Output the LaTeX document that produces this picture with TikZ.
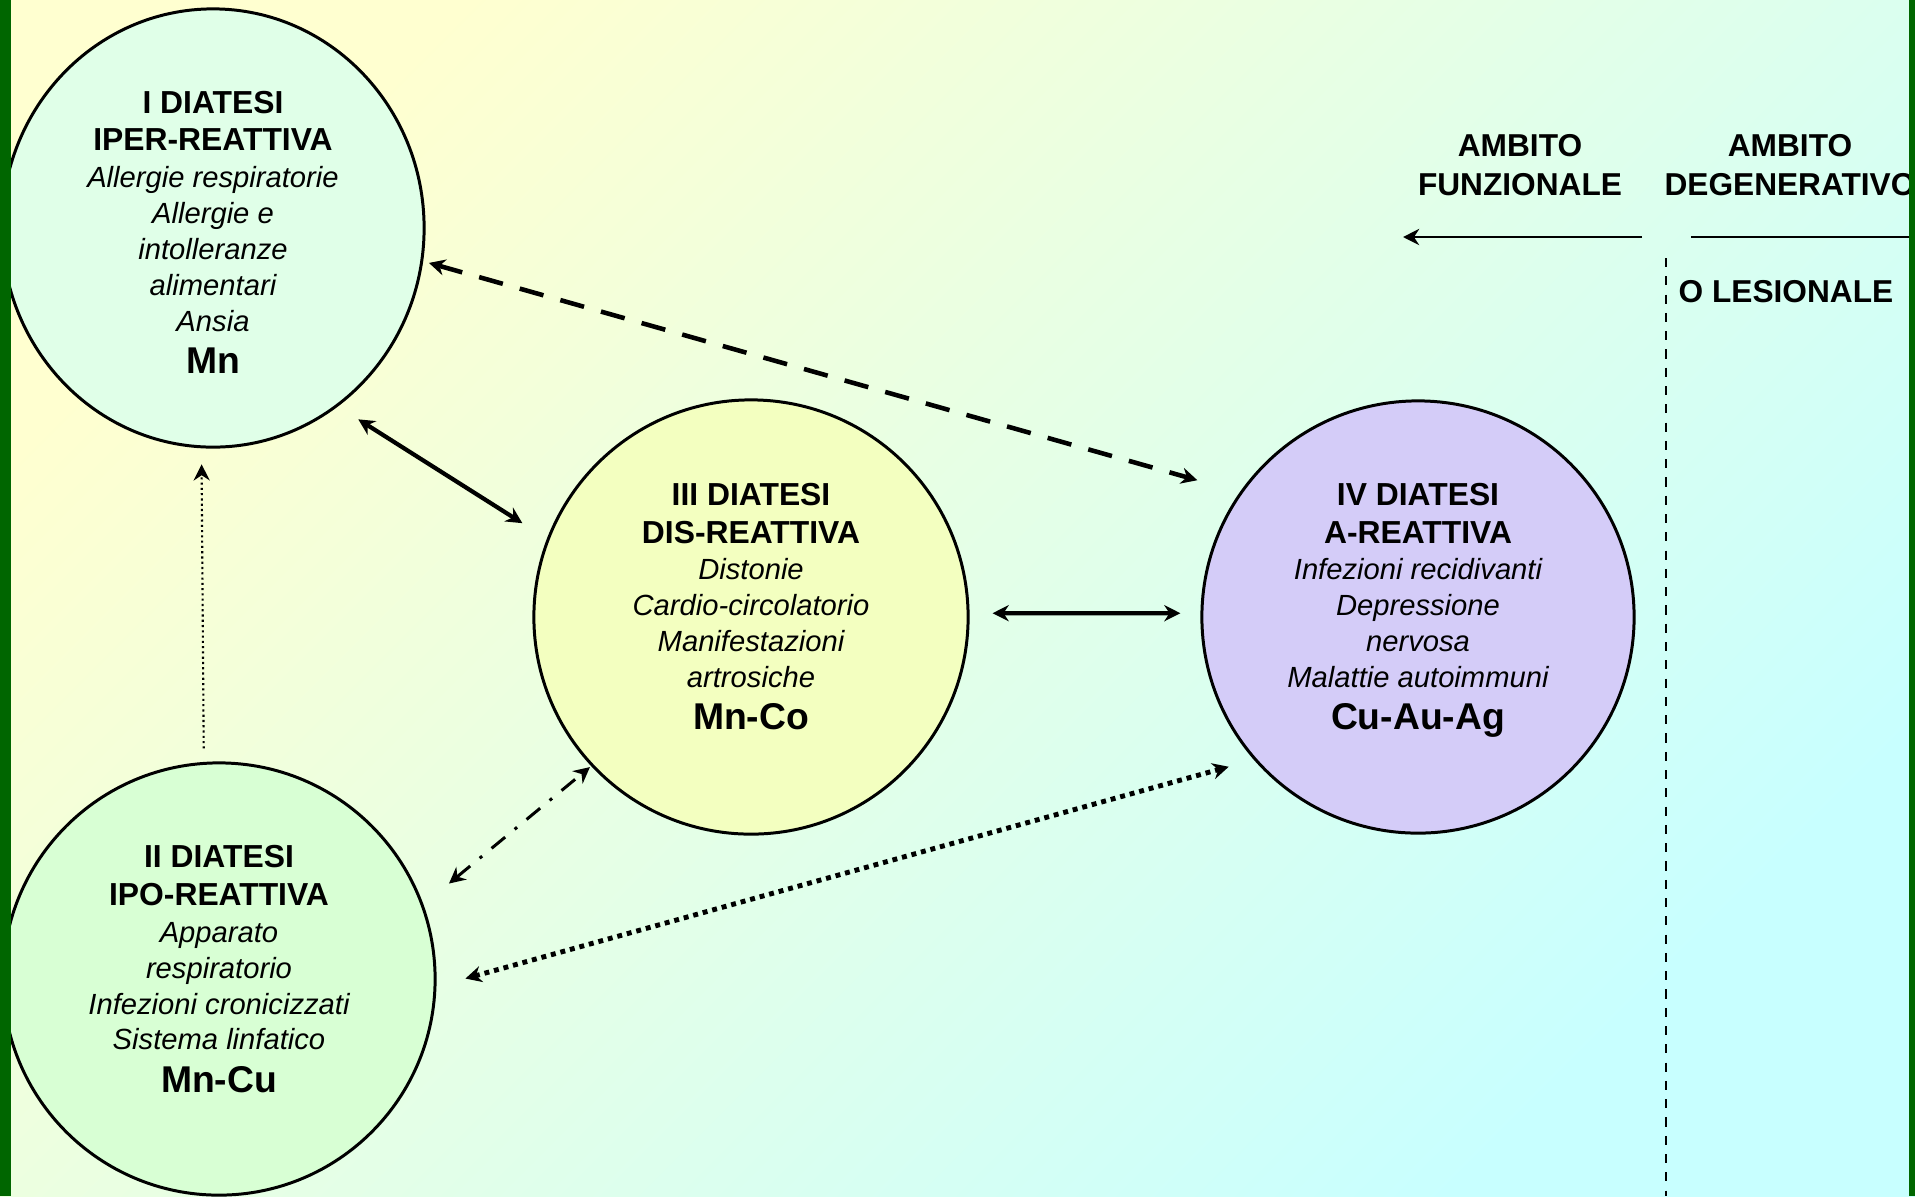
\documentclass[tikz,border=0pt]{standalone}
\usepackage{fontspec}
\setmainfont{Liberation Sans}
\usetikzlibrary{arrows.meta,shapes.geometric}
\definecolor{bgtop}{HTML}{FFFFD0}\definecolor{bgbot}{HTML}{C8FFFF}
\definecolor{verde}{HTML}{006600}
\definecolor{cI}{HTML}{E0FFE8}\definecolor{cII}{HTML}{D8FFD4}
\definecolor{cIII}{HTML}{F3FFC0}\definecolor{cIV}{HTML}{D4CCF8}
\newcommand{\titolo}[1]{{\fontsize{9.05}{10.2}\selectfont\bfseries\upshape #1}}
\newcommand{\metallo}[1]{{\fontsize{10.6}{12}\selectfont\bfseries\upshape #1}}
\tikzset{diatesi/.style={ellipse,draw,line width=0.85pt,inner sep=0pt},
  testo/.style={align=center,inner sep=0pt,font=\fontsize{8.3}{10.2}\selectfont\itshape},
  >={Stealth[length=4.6pt,width=4.6pt,inset=1.5pt]},
  freccia/.style={<->,line width=1.2pt},
  ambito/.style={align=center,inner sep=0pt,font=\fontsize{9}{11}\selectfont\bfseries}}
\begin{document}
\begin{tikzpicture}[x=0.01cm,y=-0.01cm]
    \clip(0,0)rectangle(1915,1196);
    \shade[top color=bgtop,bottom color=bgbot,shading angle=45](0,0)rectangle(1915,1196);
    \node[diatesi,fill=cI,minimum width=4.22cm,minimum height=4.38cm](iper)at(213,228){};
    \node[diatesi,fill=cII,minimum size=4.32cm](ipo)at(219,979){};
    \node[diatesi,fill=cIII,minimum size=4.34cm](dis)at(751,617){};
    \node[diatesi,fill=cIV,minimum size=4.32cm](are)at(1418,617){};
    \node[testo](iper-t)at([yshift=-0.04cm]iper.center){\titolo{I DIATESI}\\[0.6pt]\titolo{IPER-REATTIVA}\\[0.2pt]Allergie respiratorie\\Allergie e\\intolleranze\\alimentari\\Ansia\\[1.8pt]\metallo{Mn}};
    \node[testo](ipo-t)at([yshift=0.1cm]ipo.center){\titolo{II DIATESI}\\[0.6pt]\titolo{IPO-REATTIVA}\\[0.2pt]Apparato\\respiratorio\\Infezioni cronicizzati\\Sistema linfatico\\[1.8pt]\metallo{Mn-Cu}};
    \node[testo](dis-t)at([yshift=0.104cm]dis.center){\titolo{III DIATESI}\\[0.6pt]\titolo{DIS-REATTIVA}\\[0.2pt]Distonie\\Cardio-circolatorio\\Manifestazioni\\artrosiche\\[1.8pt]\metallo{Mn-Co}};
    \node[testo](are-t)at([yshift=0.067cm]are.center){\titolo{IV DIATESI}\\[0.6pt]\titolo{A-REATTIVA}\\[0.2pt]Infezioni recidivanti\\Depressione\\nervosa\\Malattie autoimmuni\\[1.8pt]\metallo{Cu-Au-Ag}};
    \draw[freccia,shorten <=0.24cm,shorten >=0.29cm](iper.-55)--(dis.159.7);
    \draw[freccia,line width=1.3pt,dash pattern=on 7pt off 5pt,shorten <=0.06cm,shorten >=0.44cm](iper.-9.7)--(are.145.3);
    \draw[freccia,shorten <=0.23cm,shorten >=0.2cm](dis.1)--(are.179);
    \draw[freccia,line width=0.85pt,dash pattern=on 5pt off 3.5pt on 0.9pt off 3.5pt,shorten <=0.33cm,shorten >=0.015cm](ipo.20.1)--(dis.-137.4);
    \draw[freccia,line width=1.4pt,dash pattern=on 1.4pt off 1.4pt,shorten <=0.3cm,shorten >=0.26cm](ipo.-2.2)--(are.-139.7);
    \draw[->,line width=0.6pt,dash pattern=on 0.6pt off 0.9pt,shorten <=0.135cm,shorten >=0.16cm](ipo.94)--(iper.267.6);
    \node[ambito](funz)at(1520,165){AMBITO\\FUNZIONALE};
    \node[ambito](deg)at(1790,165){AMBITO\\DEGENERATIVO};
    \node[ambito,anchor=west](les)at(1678,292){O LESIONALE};
    \coordinate(fz)at(1642,237);\coordinate(fzt)at(1403,237);
    \coordinate(dg)at(1691,237);\coordinate(dgt)at(1915,237);
    \draw[->,line width=0.77pt](fz)--(fzt);\draw[line width=0.77pt](dg)--(dgt);
    \coordinate(lim)at(1666,258);\coordinate(limt)at(1666,1196);
    \draw[line width=0.6pt,dash pattern=on 2.6pt off 2.6pt](lim)--(limt);
    \fill[verde](0,0)rectangle(11,1196);\fill[verde](1909,0)rectangle(1915,1196);
\end{tikzpicture}
\end{document}
